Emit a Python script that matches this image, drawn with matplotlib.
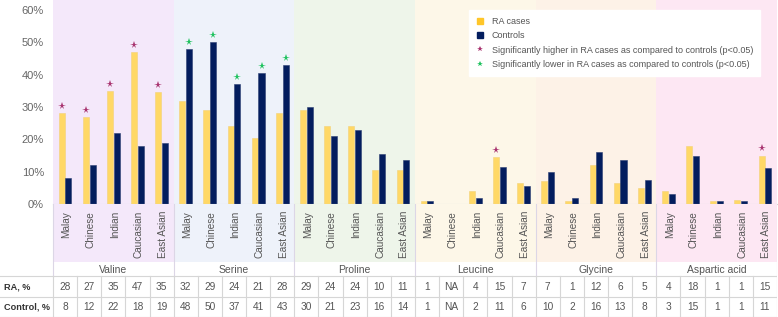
import numpy as np
import matplotlib
matplotlib.use('Agg')
import matplotlib.pyplot as plt
from matplotlib.patches import Rectangle
from matplotlib.lines import Line2D

plt.rcParams['font.family'] = ['Liberation Sans', 'DejaVu Sans']

# Data
groups = ['Valine', 'Serine', 'Proline', 'Leucine', 'Glycine', 'Aspartic acid']
ethnic = ['Malay', 'Chinese', 'Indian', 'Caucasian', 'East Asian']

# bar heights (%), group by group
ra_pct = [28, 27, 35, 47, 34.5,
          32, 29, 24, 20.5, 28,
          29, 24, 24, 10.5, 10.5,
          1, 0, 4, 14.5, 6.5,
          7, 1, 12, 6.5, 5,
          4, 18, 1, 1.2, 15]
ctrl_pct = [8, 12, 22, 18, 19,
            48, 50, 37, 40.5, 43,
            30, 21, 23, 15.5, 13.5,
            1, 0, 2, 11.5, 5.5,
            10, 2, 16, 13.5, 7.5,
            3, 15, 1, 1, 11]

# values shown in the table under the chart
ra_table = ['28', '27', '35', '47', '35', '32', '29', '24', '21', '28',
            '29', '24', '24', '10', '11', '1', 'NA', '4', '15', '7',
            '7', '1', '12', '6', '5', '4', '18', '1', '1', '15']
ctrl_table = ['8', '12', '22', '18', '19', '48', '50', '37', '41', '43',
              '30', '21', '23', '16', '14', '1', 'NA', '2', '11', '6',
              '10', '2', '16', '13', '8', '3', '15', '1', '1', '11']

sig_higher = [0, 1, 2, 3, 4, 18, 29]   # star over RA bar
sig_lower = [5, 6, 7, 8, 9]            # star over control bar

bg_colors = ['#f4e8fa', '#eef2fa', '#eef5ea', '#fdf7e8', '#fdf2e7', '#fde7f3']
ra_color = '#ffd866'
ctrl_color = '#031d5e'
star_hi = '#a8336f'
star_lo = '#1fc25e'
grid_c = '#d6d6d6'
text_c = '#555555'

W, H = 778, 317
fig = plt.figure(figsize=(W / 100, H / 100), dpi=100)

# ---- bar area ----
ax = fig.add_axes([53 / W, (H - 204) / H, 724 / W, 204 / H])
n = len(ra_pct)
x = np.arange(n)
ax.set_xlim(-0.5, n - 0.5)
ax.set_ylim(0, 63.1)

for g in range(len(groups)):
    ax.axvspan(g * 5 - 0.5, g * 5 + 4.5, color=bg_colors[g], zorder=0, lw=0)

ax.bar(x - 0.14, ra_pct, width=0.25, color=ra_color, edgecolor='#f3d27a', lw=0.4, zorder=2)
ax.bar(x + 0.14, ctrl_pct, width=0.25, color=ctrl_color, edgecolor='#2c3f72', lw=0.4, zorder=2)

hi = np.array(sig_higher)
lo = np.array(sig_lower)
ax.plot(hi - 0.14, np.array(ra_pct)[hi] + 2.2, '*', color=star_hi, ms=5.5, mew=0, zorder=3)
ax.plot(lo + 0.14, np.array(ctrl_pct)[lo] + 2.2, '*', color=star_lo, ms=5.5, mew=0, zorder=3)

ax.set_yticks(range(0, 61, 10))
ax.set_yticklabels([f'{v}%' for v in range(0, 61, 10)], fontsize=8, color='#666666')
ax.tick_params(axis='y', length=0, pad=6.5)
ax.set_xticks([])
for s in ['top', 'right', 'left']:
    ax.spines[s].set_visible(False)
ax.spines['bottom'].set_color(grid_c)
ax.spines['bottom'].set_linewidth(0.8)

handles = [
    Line2D([], [], ls='', marker='s', ms=5, color='#ffc629'),
    Line2D([], [], ls='', marker='s', ms=5, color=ctrl_color),
    Line2D([], [], ls='', marker='*', ms=4, color=star_hi, mew=0),
    Line2D([], [], ls='', marker='*', ms=4, color=star_lo, mew=0),
]
labels = ['RA cases', 'Controls',
          'Significantly higher in RA cases as compared to controls (p<0.05)',
          'Significantly lower in RA cases as compared to controls (p<0.05)']
leg = ax.legend(handles, labels, loc='upper left', bbox_to_anchor=(469 / W, 1 - 10 / H),
                bbox_transform=fig.transFigure, fontsize=6.5, frameon=True, fancybox=False,
                edgecolor='white', framealpha=1, handlelength=1.0, handletextpad=0.75,
                labelspacing=0.6, borderpad=0.75, borderaxespad=0)
for t in leg.get_texts():
    t.set_color(text_c)

# ---- labels and table ----
slot = 724 / n
lab = fig.add_axes([0, 0, 777 / W, 113 / H])
left = -0.5 - 53 / slot
lab.set_xlim(left, n - 0.5)
lab.set_ylim(113, 0)
lab.axis('off')

for g in range(len(groups)):
    lab.add_patch(Rectangle((g * 5 - 0.5, 0), 5, 58, color=bg_colors[g], lw=0))
    lab.text(g * 5 + 2, 66, groups[g], ha='center', va='center', fontsize=7.5, color=text_c)
for g in range(len(groups) + 1):
    lab.plot([g * 5 - 0.5] * 2, [0, 72], color='#dcd6e6', lw=0.8)

for i in range(n):
    lab.text(i + 0.06, 7, ethnic[i % 5], rotation=90, ha='center', va='top', fontsize=7.2, color=text_c)
    lab.text(i, 83, ra_table[i], ha='center', va='center', fontsize=7.3, color=text_c)
    lab.text(i, 103, ctrl_table[i], ha='center', va='center', fontsize=7.3, color=text_c)

for yy in [72, 92.7, 112.5]:
    lab.plot([left, n - 0.5], [yy, yy], color=grid_c, lw=0.8)
for i in range(n + 1):
    lab.plot([i - 0.5] * 2, [72, 112.5], color=grid_c, lw=0.8)

lab.text(left + 4 / slot, 83, 'RA, %', ha='left', va='center', fontsize=6.6,
         fontweight='bold', color='#333333')
lab.text(left + 4 / slot, 103, 'Control, %', ha='left', va='center', fontsize=6.6,
         fontweight='bold', color='#333333')

fig.savefig('out.png', dpi=100)
